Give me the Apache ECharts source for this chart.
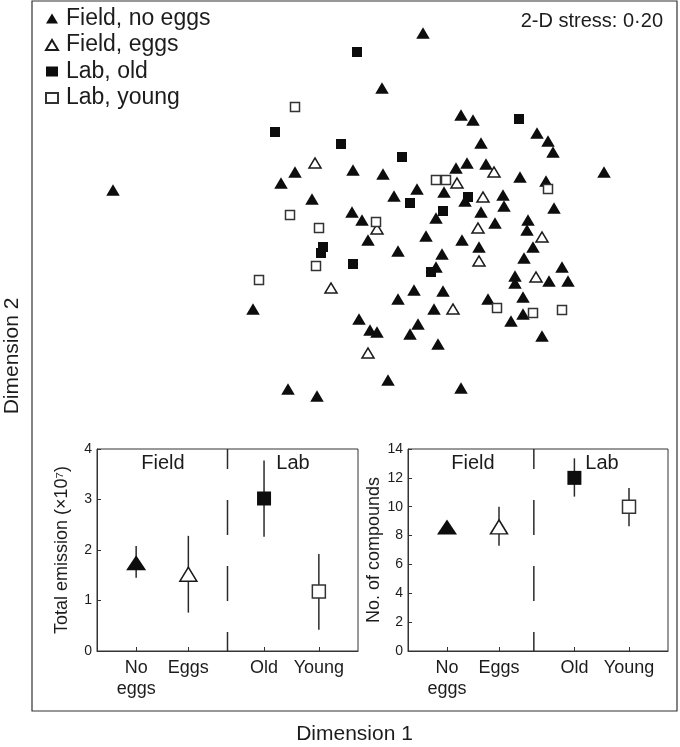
<!DOCTYPE html>
<html>
<head>
<meta charset="utf-8">
<script src="https://cdn.jsdelivr.net/npm/echarts@6/dist/echarts.min.js"></script>
<style>
html,body{margin:0;padding:0;background:#fff;}
#chart{width:680px;height:747px;}
</style>
</head>
<body>
<div id="chart"></div>
<script>
// ---------- NMDS ordination (Dimension 1, Dimension 2), arbitrary units ----------
const fieldNoEggs = [
  [-2.87,0.50],[0.23,2.07],[-0.18,1.52],[0.61,1.25],[0.73,1.20],[1.37,1.07],[1.48,0.99],[1.53,0.88],
  [0.81,0.97],[-1.05,0.68],[-1.19,0.57],[-0.88,0.41],[-0.47,0.70],[-0.17,0.66],[0.56,0.72],[0.67,0.77],
  [0.86,0.76],[1.20,0.63],[1.46,0.59],[2.04,0.68],[0.17,0.51],[-0.06,0.44],[0.44,0.48],[1.03,0.45],
  [0.65,0.39],[1.04,0.34],[0.36,0.22],[0.81,0.28],[1.54,0.32],[0.95,0.17],[1.28,0.20],[1.27,0.10],
  [0.26,0.04],[0.62,0.00],[0.79,-0.07],[1.33,-0.07],[0.42,-0.14],[0.36,-0.27],[1.24,-0.18],[1.15,-0.36],
  [1.15,-0.43],[1.49,-0.41],[1.62,-0.27],[1.68,-0.41],[0.43,-0.51],[1.23,-0.57],[0.34,-0.69],[0.88,-0.59],
  [1.23,-0.74],[1.11,-0.81],[1.42,-0.96],[0.38,-1.04],[0.61,-1.48],[0.18,-0.84],[-0.48,0.28],[-0.38,0.20],
  [-0.32,0.00],[-0.02,-0.11],[0.14,-0.50],[-0.02,-0.59],[-1.47,-0.69],[-0.41,-0.79],[-0.30,-0.90],[-0.23,-0.92],
  [0.10,-0.94],[-0.12,-1.40],[-1.12,-1.49],[-0.83,-1.56]
];
const fieldEggs = [
  [-0.85,0.77],[0.94,0.68],[0.57,0.57],[0.83,0.43],[-0.23,0.11],[0.78,0.12],
  [1.42,0.03],[0.79,-0.21],[1.36,-0.37],[0.53,-0.69],[-0.69,-0.48],[-0.32,-1.13]
];
const labOld = [
  [-0.43,1.88],[-1.25,1.08],[-0.59,0.96],[0.02,0.83],[1.19,1.21],[0.10,0.37],
  [0.68,0.43],[0.43,0.29],[-0.77,-0.07],[-0.79,-0.13],[-0.47,-0.24],[0.31,-0.32]
];
const labYoung = [
  [-1.05,1.33],[0.36,0.60],[0.46,0.60],[1.48,0.51],[-1.10,0.25],[-0.24,0.18],
  [-0.81,0.12],[-0.84,-0.26],[-1.41,-0.40],[0.97,-0.68],[1.33,-0.73],[1.62,-0.70]
];
const seriesNames = ['Field, no eggs','Field, eggs','Lab, old','Lab, young'];
const stressText = '2-D stress: 0·20';

// ---------- inset data ----------
const groupLabels = ['No\neggs','Eggs','Old','Young'];
const groupPos = [0.75,1.75,3.2,4.25];
const emissionMean = [1.75,1.52,3.02,1.18];
const emissionLow  = [1.45,0.76,2.26,0.42];
const emissionHigh = [2.08,2.28,3.77,1.92];
const compoundsMean = [8.6,8.6,12.0,10.0];
const compoundsLow  = [8.2,7.3,10.7,8.65];
const compoundsHigh = [9.0,10.0,13.35,11.3];
const emissionTicks = [0,1,2,3,4];
const compoundsTicks = [0,2,4,6,8,10,12,14];
const dividerPos = [2.5,2.42];

// ---------- styles ----------
const FONT = '"Liberation Sans", Arial, Helvetica, sans-serif';
const INK = '#1c1c1c';
const mainStyles = [
  {symbol:'triangle', symbolSize:[13.5,11.5], itemStyle:{color:'#0d0d0d', opacity:1}},
  {symbol:'triangle', symbolSize:[12,10], itemStyle:{color:'#fff', borderColor:'#1a1a1a', borderWidth:1.5, opacity:1}},
  {symbol:'rect', symbolSize:10, itemStyle:{color:'#0d0d0d', opacity:1}},
  {symbol:'rect', symbolSize:9, itemStyle:{color:'#fff', borderColor:'#333', borderWidth:1.5, opacity:1}}
];
const insetStyles = [
  {symbol:'triangle', symbolSize:[20,15], itemStyle:{color:'#0d0d0d', opacity:1}},
  {symbol:'triangle', symbolSize:[17,14], itemStyle:{color:'#fff', borderColor:'#1a1a1a', borderWidth:1.5, opacity:1}},
  {symbol:'rect', symbolSize:14, itemStyle:{color:'#0d0d0d', opacity:1}},
  {symbol:'rect', symbolSize:13, itemStyle:{color:'#fff', borderColor:'#333', borderWidth:1.5, opacity:1}}
];

const chart = echarts.init(document.getElementById('chart'), null, {renderer:'canvas'});

function insetXAxis(gridIndex){
  return {
    type:'value', gridIndex, min:0, max:5,
    axisLine:{show:true, lineStyle:{color:'#333', width:1}},
    axisTick:{show:true, inside:true, length:4, customValues:groupPos, lineStyle:{color:'#333'}},
    axisLabel:{show:true, customValues:groupPos, color:INK, fontFamily:FONT, fontSize:18, lineHeight:21, margin:7,
      formatter:(v)=>{const i=groupPos.findIndex(p=>Math.abs(p-v)<1e-6); return i>=0?groupLabels[i]:'';}},
    splitLine:{show:false}
  };
}
function insetYAxis(gridIndex, max, interval, name, gap){
  return {
    type:'value', gridIndex, min:0, max, interval,
    name, nameLocation:'middle', nameGap:gap, nameRotate:90,
    nameTextStyle:{color:INK, fontFamily:FONT, fontSize:18},
    axisLine:{show:true, lineStyle:{color:'#333', width:1}},
    axisTick:{show:true, inside:true, length:4, lineStyle:{color:'#333'}},
    axisLabel:{color:INK, fontFamily:FONT, fontSize:14, margin:5},
    splitLine:{show:false}
  };
}
function errorSeries(axisIndex, lo, hi){
  return {
    type:'custom', xAxisIndex:axisIndex, yAxisIndex:axisIndex, z:3, silent:true,
    data: groupPos.map((x,i)=>[x, lo[i], hi[i]]),
    renderItem:(params, api)=>{
      const p1 = api.coord([api.value(0), api.value(1)]);
      const p2 = api.coord([api.value(0), api.value(2)]);
      return {type:'line', shape:{x1:p1[0],y1:p1[1],x2:p2[0],y2:p2[1]}, style:{stroke:'#2a2a2a', lineWidth:1.5}};
    }
  };
}
function meanSeries(axisIndex, mean){
  return {
    type:'scatter', xAxisIndex:axisIndex, yAxisIndex:axisIndex, z:5, silent:true,
    data: groupPos.map((x,i)=>Object.assign({value:[x, mean[i]]}, insetStyles[i]))
  };
}
function dividerSeries(axisIndex, x, top){
  return {
    type:'line', xAxisIndex:axisIndex, yAxisIndex:axisIndex, z:2, silent:true, symbol:'none',
    data:[[x,0],[x,top]],
    lineStyle:{color:'#2a2a2a', width:1.5, type:[35,31], dashOffset:16}
  };
}

const option = {
  animation:false,
  backgroundColor:'#fff',
  textStyle:{fontFamily:FONT},
  grid:[
    {left:32, right:3, top:1, bottom:36, show:true, borderColor:'#333', borderWidth:1.2, outerBoundsMode:'none', containLabel:false},
    {left:97, top:449, width:261, height:202, show:true, borderColor:'#333', borderWidth:1, outerBoundsMode:'none', containLabel:false},
    {left:408, top:449, width:260, height:202, show:true, borderColor:'#333', borderWidth:1, outerBoundsMode:'none', containLabel:false}
  ],
  xAxis:[
    {type:'value', gridIndex:0, min:-3.68, max:2.77, axisLine:{show:false}, axisTick:{show:false}, axisLabel:{show:false}, splitLine:{show:false},
     name:'Dimension 1', nameLocation:'middle', nameGap:13, nameTextStyle:{color:INK, fontFamily:FONT, fontSize:21}},
    insetXAxis(1), insetXAxis(2)
  ],
  yAxis:[
    {type:'value', gridIndex:0, min:-4.71, max:2.39, axisLine:{show:false}, axisTick:{show:false}, axisLabel:{show:false}, splitLine:{show:false},
     name:'Dimension 2', nameLocation:'middle', nameGap:9, nameRotate:90, nameTextStyle:{color:INK, fontFamily:FONT, fontSize:21}},
    insetYAxis(1, 4, 1, 'Total emission (×10⁷)', 26),
    insetYAxis(2, 14, 2, 'No. of compounds', 25)
  ],
  legend:{
    left:45, top:7, orient:'vertical', itemGap:3.5, itemWidth:12, itemHeight:10, padding:0,
    data:seriesNames, selectedMode:false,
    textStyle:{color:INK, fontFamily:FONT, fontSize:23, lineHeight:22, padding:[0,0,0,3]}
  },
  graphic:[
    {type:'text', right:17, top:11, style:{text:stressText, fill:INK, font:'20px '+FONT}},
    {type:'text', x:163, y:463, style:{text:'Field', fill:INK, font:'20px '+FONT, align:'center', verticalAlign:'middle'}},
    {type:'text', x:293, y:463, style:{text:'Lab', fill:INK, font:'20px '+FONT, align:'center', verticalAlign:'middle'}},
    {type:'text', x:473, y:463, style:{text:'Field', fill:INK, font:'20px '+FONT, align:'center', verticalAlign:'middle'}},
    {type:'text', x:602, y:463, style:{text:'Lab', fill:INK, font:'20px '+FONT, align:'center', verticalAlign:'middle'}}
  ],
  series:[
    Object.assign({type:'scatter', name:seriesNames[0], xAxisIndex:0, yAxisIndex:0, data:fieldNoEggs, z:4}, mainStyles[0]),
    Object.assign({type:'scatter', name:seriesNames[1], xAxisIndex:0, yAxisIndex:0, data:fieldEggs, z:4}, mainStyles[1]),
    Object.assign({type:'scatter', name:seriesNames[2], xAxisIndex:0, yAxisIndex:0, data:labOld, z:4}, mainStyles[2]),
    Object.assign({type:'scatter', name:seriesNames[3], xAxisIndex:0, yAxisIndex:0, data:labYoung, z:4}, mainStyles[3]),
    dividerSeries(1, dividerPos[0], emissionTicks[emissionTicks.length-1]),
    errorSeries(1, emissionLow, emissionHigh),
    meanSeries(1, emissionMean),
    dividerSeries(2, dividerPos[1], compoundsTicks[compoundsTicks.length-1]),
    errorSeries(2, compoundsLow, compoundsHigh),
    meanSeries(2, compoundsMean)
  ]
};
chart.setOption(option);
</script>
</body>
</html>
